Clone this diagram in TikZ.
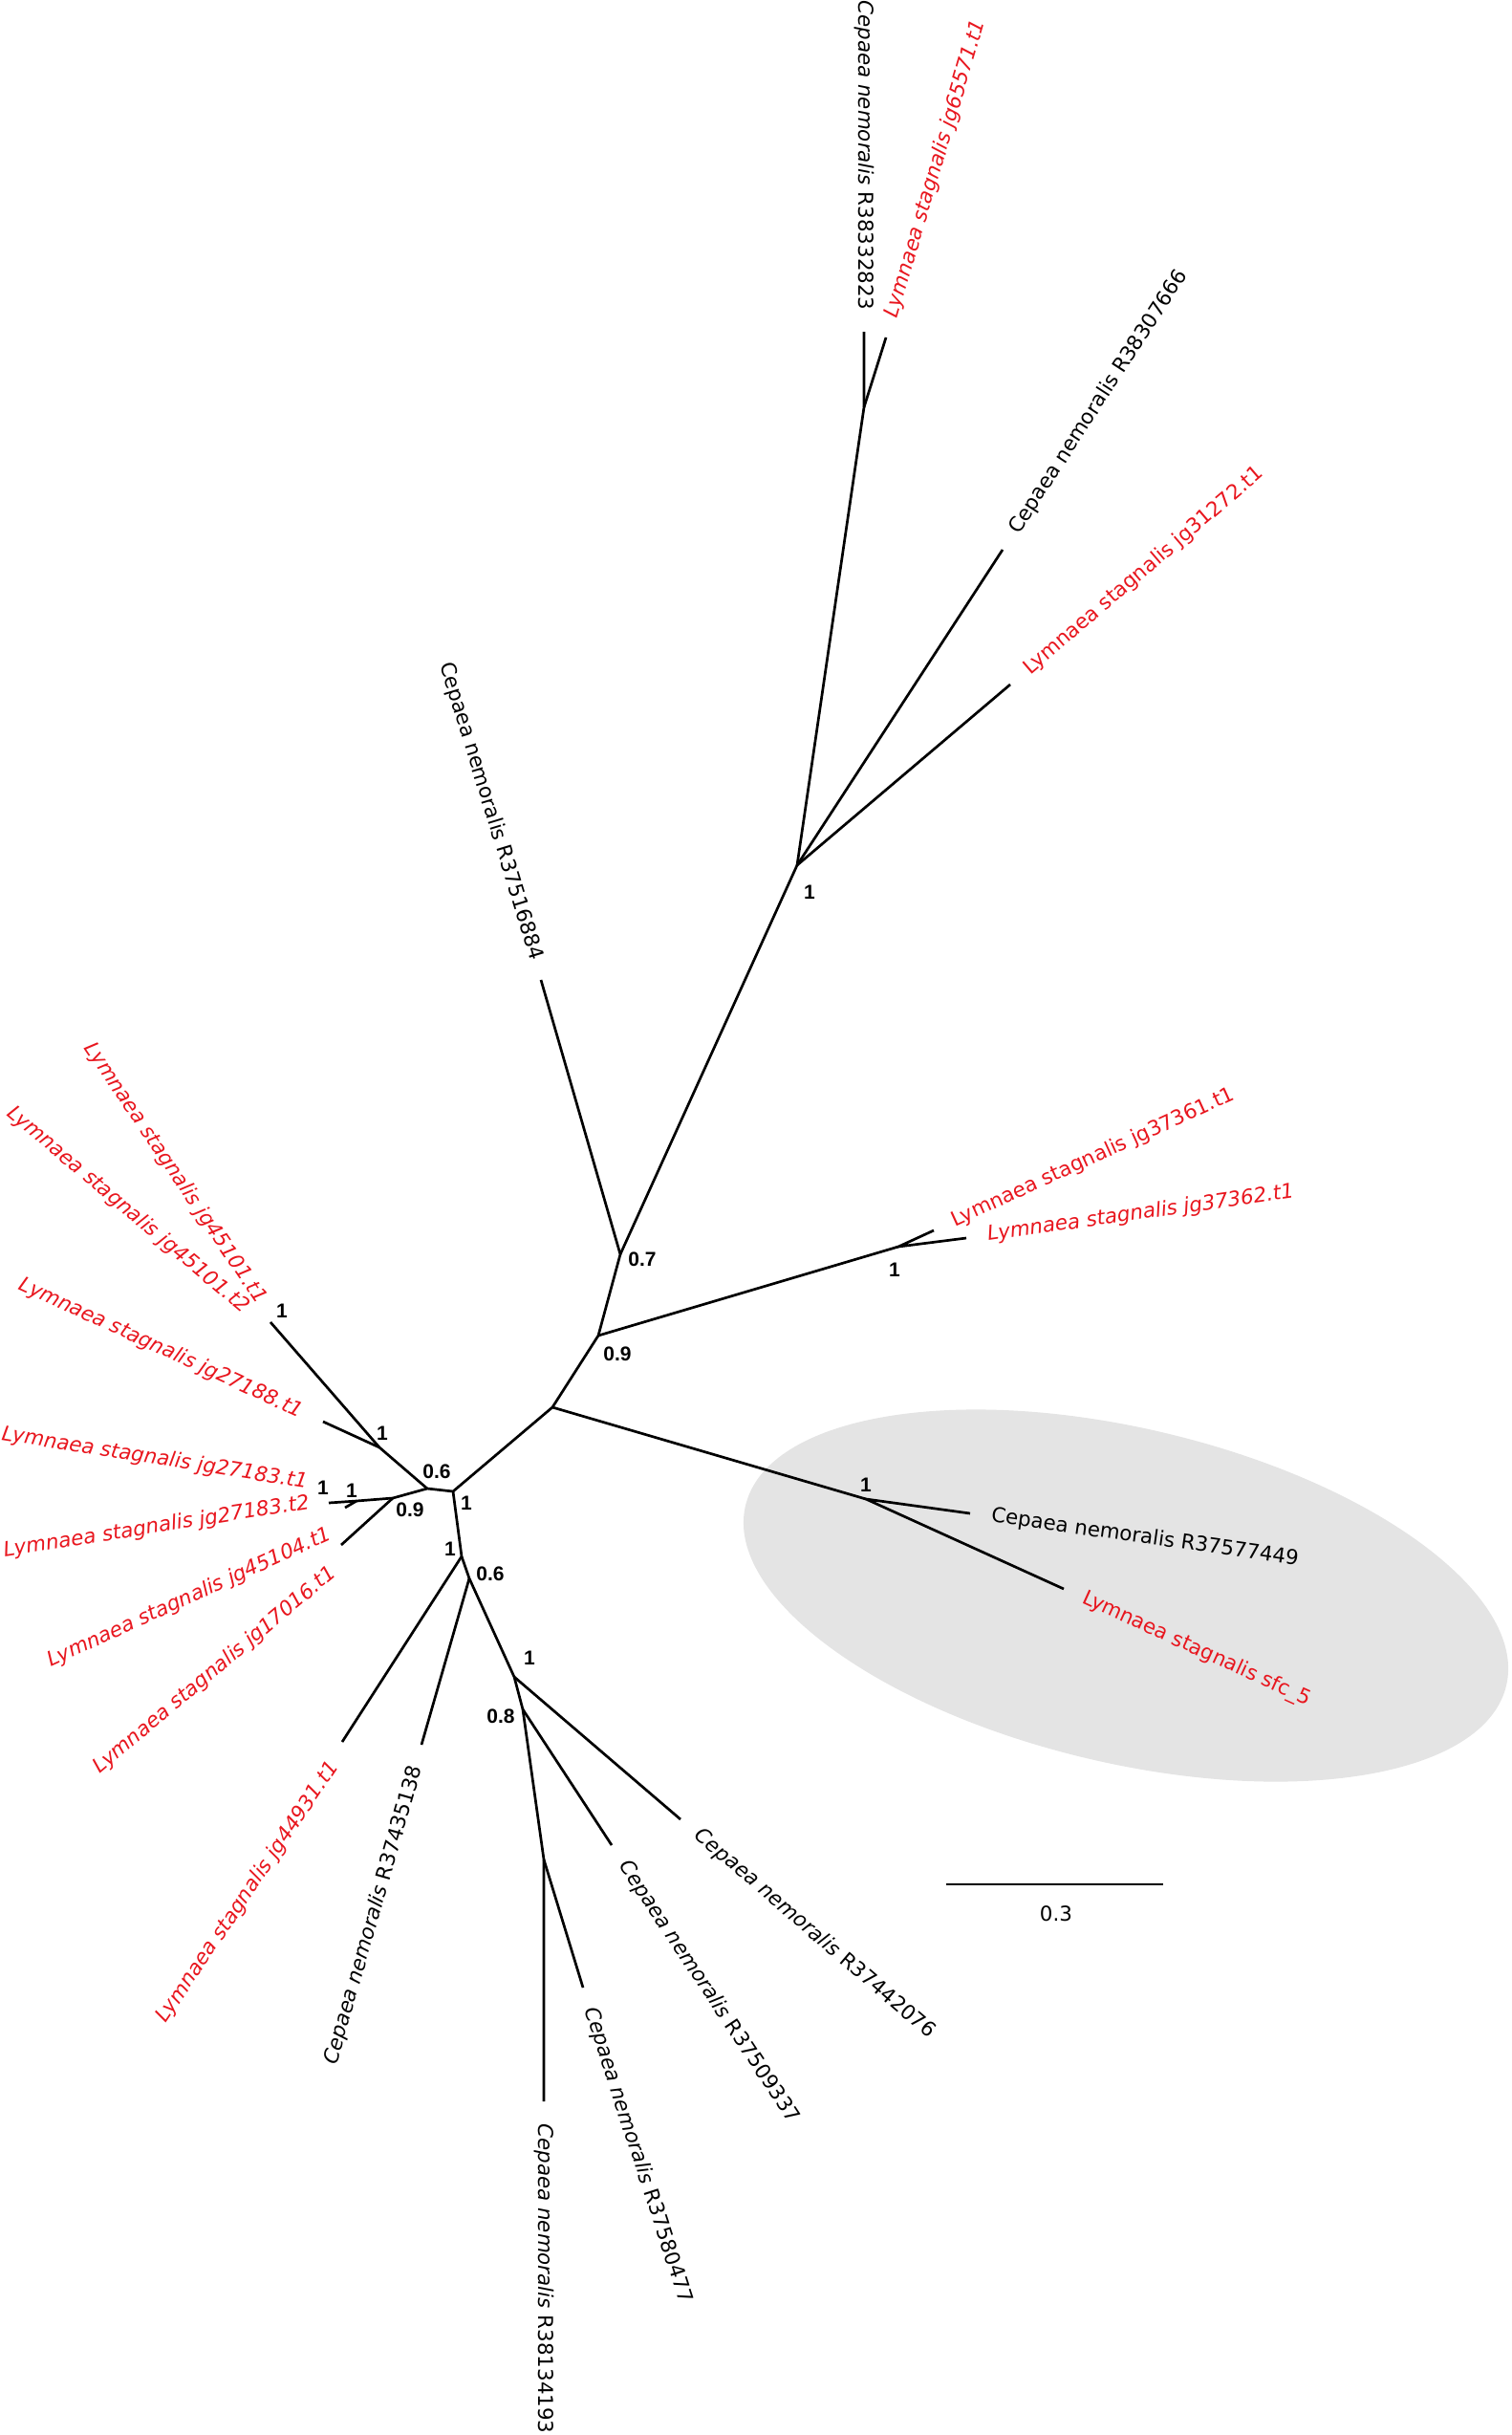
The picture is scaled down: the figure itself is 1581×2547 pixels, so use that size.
\documentclass[tikz,border=0pt]{standalone}
\usepackage{fontspec}
\setmainfont{DejaVu Sans}
\newfontfamily\bsfont{Liberation Sans}
\definecolor{lred}{RGB}{232,22,30}
\definecolor{ellgray}{RGB}{228,228,228}
\begin{document}
\begin{tikzpicture}[x=0.5pt,y=-0.5pt,
  branch/.style={line width=1.35pt},
  lab/.style={font=\fontsize{10.7}{12}\selectfont, inner sep=0pt},
  rl/.style={lab, anchor=west},
  ll/.style={lab, anchor=east},
  redl/.style={text=lred},
  bsup/.style={font=\bsfont\bfseries\fontsize{10.5}{12}\selectfont, inner sep=0pt}]
\path[use as bounding box] (0,0) rectangle (1581,2547);
% highlight ellipse
\fill[ellgray, rotate around={-13.3:(1178,1669)}] (1178,1669) ellipse [x radius=204.5pt, y radius=87.5pt];
% internal nodes
\coordinate (A) at (904,426);
\coordinate (B) at (834,905);
\coordinate (C) at (649,1312);
\coordinate (D) at (626,1397);
\coordinate (E) at (940,1304);
\coordinate (F) at (578,1472);
\coordinate (H) at (906,1568);
\coordinate (G) at (474,1560);
\coordinate (J) at (447,1557);
\coordinate (I) at (397,1514);
\coordinate (K) at (411,1567);
\coordinate (M) at (373,1570);
\coordinate (P1) at (483,1628);
\coordinate (P2) at (491,1651);
\coordinate (Q) at (538,1754);
\coordinate (R) at (547,1788);
\coordinate (S) at (569,1945);
% tips
\coordinate (T1) at (904,347);
\coordinate (T2) at (927,353);
\coordinate (T3) at (1049,575);
\coordinate (T4) at (1057,716);
\coordinate (T5) at (566,1025);
\coordinate (T6) at (977,1287);
\coordinate (T7) at (1011,1295);
\coordinate (T8) at (1015,1583);
\coordinate (T9) at (1113,1662);
\coordinate (T10) at (283,1383);
\coordinate (T11) at (338,1487);
\coordinate (T12) at (344,1572);
\coordinate (T13) at (361,1577);
\coordinate (T14) at (357,1616);
\coordinate (T15) at (358,1822);
\coordinate (T16) at (441,1825);
\coordinate (T17) at (712,1903);
\coordinate (T18) at (640,1930);
\coordinate (T19) at (610,2079);
\coordinate (T20) at (569,2198);
% branches
\draw[branch] (T1) -- (A) -- (B);
\draw[branch] (T2) -- (A);
\draw[branch] (T3) -- (B) -- (C);
\draw[branch] (T4) -- (B);
\draw[branch] (T5) -- (C) -- (D) -- (F);
\draw[branch] (D) -- (E);
\draw[branch] (T6) -- (E) -- (T7);
\draw[branch] (F) -- (H);
\draw[branch] (T8) -- (H) -- (T9);
\draw[branch] (F) -- (G) -- (J) -- (I) -- (T10);
\draw[branch] (I) -- (T11);
\draw[branch] (J) -- (K) -- (M) -- (T12);
\draw[branch] (M) -- (T13);
\draw[branch] (K) -- (T14);
\draw[branch] (G) -- (P1) -- (P2) -- (Q) -- (R) -- (S) -- (T20);
\draw[branch] (P1) -- (T15);
\draw[branch] (P2) -- (T16);
\draw[branch] (Q) -- (T17);
\draw[branch] (R) -- (T18);
\draw[branch] (S) -- (T19);
% tip labels
\node[ll, rotate=-90] (L1) at (904,325) {\textit{Cepaea nemoralis} R38332823};
\node[rl, redl, rotate=73.5] (L2) at (933,332) {\textit{Lymnaea stagnalis jg65571.t1}};
\node[rl, rotate=57] (L3) at (1061,557) {Cepaea nemoralis R38307666};
\node[rl, redl, rotate=40.5] (L4) at (1074,702) {Lymnaea stagnalis jg31272.t1};
\node[ll, rotate=-73] (L5) at (561,1004) {Cepaea nemoralis R37516884};
\node[rl, redl, rotate=24.5] (L6) at (997,1278) {Lymnaea stagnalis jg37361.t1};
\node[rl, redl, rotate=8] (L7) at (1033,1292) {\textit{Lymnaea stagnalis jg37362.t1}};
\node[rl, rotate=-8] (L8) at (1037,1586) {Cepaea nemoralis R37577449};
\node[rl, redl, rotate=-24.5] (L9) at (1133,1671) {Lymnaea stagnalis sfc\_5};
\node[ll, redl, rotate=-56] (L10) at (274,1362) {\textit{Lymnaea stagnalis jg45101.t1}};
\node[ll, redl, rotate=-40] (L11) at (258,1370) {\textit{Lymnaea stagnalis jg45101.t2}};
\node[ll, redl, rotate=-24.6] (L12) at (316,1478) {\textit{Lymnaea stagnalis jg27188.t1}};
\node[ll, redl, rotate=-9] (L13) at (322,1551) {\textit{Lymnaea stagnalis jg27183.t1}};
\node[ll, redl, rotate=9] (L14) at (324,1572) {\textit{Lymnaea stagnalis jg27183.t2}};
\node[ll, redl, rotate=24.5] (L15) at (346,1604) {\textit{Lymnaea stagnalis jg45104.t1}};
\node[ll, redl, rotate=40] (L16) at (349,1643) {\textit{Lymnaea stagnalis jg17016.t1}};
\node[ll, redl, rotate=56] (L17) at (350,1845) {\textit{Lymnaea stagnalis jg44931.t1}};
\node[ll, rotate=74] (L18) at (436,1847) {\textit{Cepaea nemoralis} R37435138};
\node[rl, rotate=-40.6] (L19) at (729,1917) {\textit{Cepaea nemoralis} R37442076};
\node[rl, rotate=-56.5] (L20) at (652,1948) {\textit{Cepaea nemoralis} R37509337};
\node[rl, rotate=-72] (L21) at (617,2100) {\textit{Cepaea nemoralis} R37580477};
\node[rl, rotate=-90] (L22) at (569,2221) {\textit{Cepaea nemoralis} R38134193};
% support values
\node[bsup] (sB) at (847,933) {1};
\node[bsup] (sC) at (672,1317) {0.7};
\node[bsup] (sD) at (646,1416) {0.9};
\node[bsup] (sE) at (936,1328) {1};
\node[bsup] (sH) at (906,1553) {1};
\node[bsup] (sJ) at (457,1539) {0.6};
\node[bsup] (sG) at (488,1572) {1};
\node[bsup] (sI) at (400,1499) {1};
\node[bsup] (sT10) at (295,1371) {1};
\node[bsup] (sK) at (429,1579) {0.9};
\node[bsup] (sM) at (368,1559) {1};
\node[bsup] (sT12) at (338,1556) {1};
\node[bsup] (sP1) at (471,1620) {1};
\node[bsup] (sP2) at (513,1646) {0.6};
\node[bsup] (sQ) at (554,1734) {1};
\node[bsup] (sR) at (524,1795) {0.8};
% scale bar
\coordinate (SB1) at (990,1971);
\coordinate (SB2) at (1217,1971);
\draw[line width=1.2pt] (SB1) -- (SB2);
\node[lab] (SBL) at (1105,2002) {0.3};
\end{tikzpicture}
\end{document}
